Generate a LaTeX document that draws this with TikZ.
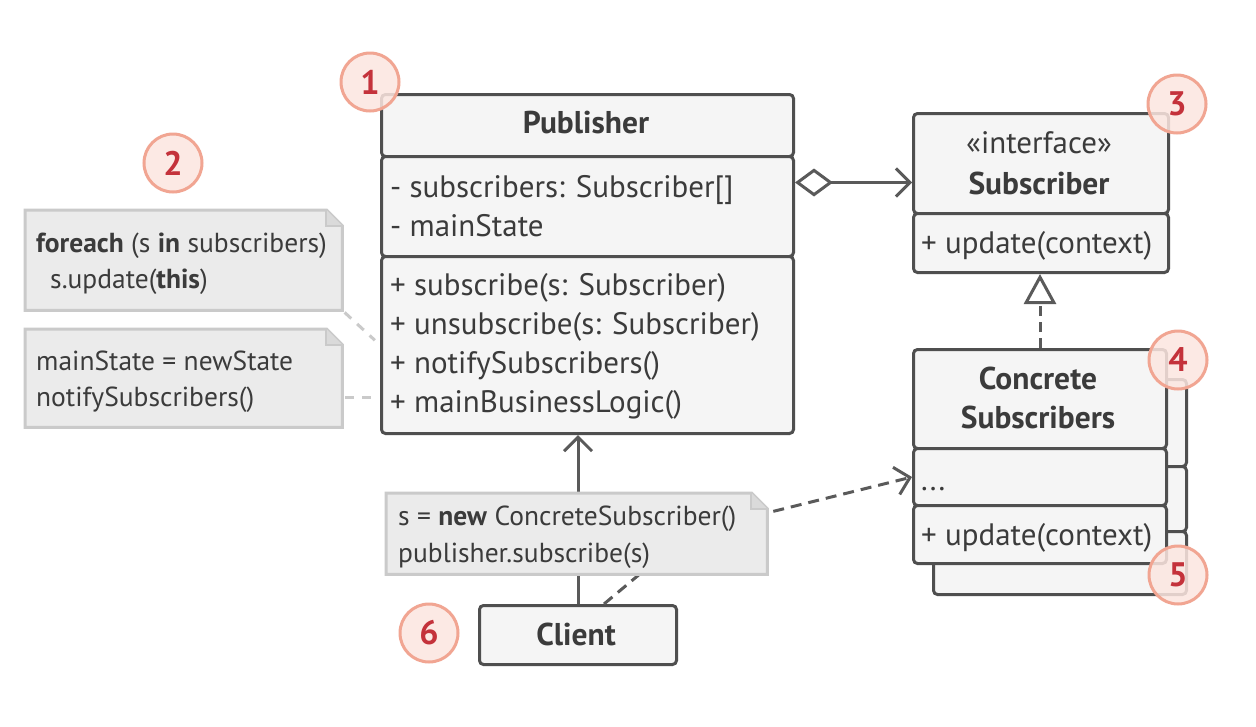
\documentclass[tikz,border=0pt]{standalone}
\usepackage{fontspec}
\setmainfont{PT Sans}
\usetikzlibrary{arrows.meta}

\definecolor{boxline}{HTML}{4F4F4F}
\definecolor{boxfill}{HTML}{F5F5F5}
\definecolor{textcol}{HTML}{3B3B3B}
\definecolor{notefill}{HTML}{EBEBEB}
\definecolor{noteline}{HTML}{CACACA}
\definecolor{badgefill}{HTML}{FCE6E0}
\definecolor{badgeline}{HTML}{F1A592}
\definecolor{badgetext}{HTML}{C4323B}
\definecolor{linkcol}{HTML}{5A5A5A}

\tikzset{
  compart/.style={draw=boxline, fill=boxfill, line width=3pt, rounded corners=4pt, inner sep=0pt, anchor=north west},
  txt/.style={inner sep=0pt, anchor=base west, text=textcol, font=\fontsize{31}{37}\selectfont},
  ctxt/.style={txt, anchor=base},
  btxt/.style={ctxt, font=\fontsize{31.5}{37}\selectfont\bfseries},
  ntxt/.style={txt, font=\fontsize{27.5}{33}\selectfont},
  notearea/.style={inner sep=0pt, anchor=north west},
  badge/.style={circle, draw=badgeline, fill=badgefill, fill opacity=0.85, text opacity=1, line width=3pt, minimum size=58pt, inner sep=0pt, text=badgetext, font=\fontsize{34}{40}\selectfont\bfseries},
  uses/.style={draw=linkcol, line width=3pt},
  notelink/.style={draw=noteline, line width=3pt, dash pattern=on 9pt off 8pt},
}

% note sheet with a folded corner
\newcommand{\notepaper}[1]{%
  \draw[fill=notefill, draw=noteline, line width=3pt, line join=miter] (#1.north west) -- ([xshift=-16pt]#1.north east) -- ([yshift=-16pt]#1.north east) -- (#1.south east) -- (#1.south west) -- cycle;
  \draw[fill=noteline!50!notefill, draw=noteline, line width=2pt, line join=miter] ([xshift=-16pt]#1.north east) -- ([xshift=-16pt,yshift=-16pt]#1.north east) -- ([yshift=-16pt]#1.north east);
}

\begin{document}
\begin{tikzpicture}[x=1pt, y=-1pt]
  \fill[white] (0,0) rectangle (1256,726);
  \useasboundingbox (0,0) rectangle (1256,726);

  % Publisher
  \node[compart, minimum width=412pt, minimum height=62pt] (pubhead) at (380,93) {};
  \node[compart, minimum width=412pt, minimum height=100pt] (pubattr) at (380,155) {};
  \node[compart, minimum width=412pt, minimum height=177pt] (pubops) at (380,255) {};
  \node[btxt] (pubname) at (586,133) {Publisher};
  \node[txt] (attr1) at (390,197) {- subscribers: Subscriber[]};
  \node[txt] (attr2) at (390,236) {- mainState};
  \node[txt] (op1) at (390,295) {+ subscribe(s: Subscriber)};
  \node[txt] (op2) at (390,334) {+ unsubscribe(s: Subscriber)};
  \node[txt] (op3) at (390,373) {+ notifySubscribers()};
  \node[txt] (op4) at (390,412) {+ mainBusinessLogic()};

  % Subscriber interface
  \node[compart, minimum width=255pt, minimum height=100pt] (subhead) at (912,112) {};
  \node[compart, minimum width=255pt, minimum height=59pt] (subops) at (912,212) {};
  \node[ctxt] (substereo) at (1039,153) {«interface»};
  \node[btxt] (subname) at (1039,194) {Subscriber};
  \node[txt] (subop) at (921,253) {+ update(context)};

  % Concrete subscribers (stacked)
  \node[compart, minimum width=253pt, minimum height=87pt] (backhead) at (932,378) {};
  \node[compart, minimum width=253pt, minimum height=65pt] (backattr) at (932,465) {};
  \node[compart, minimum width=253pt, minimum height=63pt] (backops) at (932,530) {};
  \node[compart, minimum width=253pt, minimum height=99pt] (conhead) at (912,348) {};
  \node[compart, minimum width=253pt, minimum height=57pt] (conattr) at (912,447) {};
  \node[compart, minimum width=253pt, minimum height=58pt] (conops) at (912,504) {};
  \node[btxt] (conname1) at (1038,389) {Concrete};
  \node[btxt] (conname2) at (1038,428) {Subscribers};
  \node[txt] (conattrtxt) at (921,490) {...};
  \node[txt] (conop) at (921,545) {+ update(context)};

  % Client
  \node[compart, minimum width=197pt, minimum height=59pt] (client) at (478,604) {};
  \node[btxt] (clientname) at (576,645) {Client};

  % connectors
  \draw[uses, {Diamond[open, length=38pt, width=28pt]}-{Straight Barb[length=14pt, width=28pt]}]
    ([yshift=24pt]pubattr.east) -- ([yshift=24pt]pubattr.east -| subhead.west);
  \draw[uses, dash pattern=on 10pt off 6pt, -{Triangle[fill=white, length=30pt, width=32pt]}]
    (conhead.north) -- (conhead.north |- subops.south);
  \draw[uses, -{Straight Barb[length=14pt, width=28pt]}] (client.north) -- (client.north |- pubops.south);
  \coordinate (bend) at (690,532);
  \draw[uses, dash pattern=on 11pt off 7pt, -{Straight Barb[length=14pt, width=28pt]}]
    ([xshift=26pt]client.north) -- (bend) -- (conattr.west);

  % notes
  \node[notearea, minimum width=317pt, minimum height=100pt] (note1) at (25,210) {};
  \notepaper{note1}
  \node[ntxt] (note1a) at (36,252) {\textbf{foreach} (s \textbf{in} subscribers)};
  \node[ntxt] (note1b) at (50,288) {s.update(\textbf{this})};

  \node[notearea, minimum width=317pt, minimum height=98pt] (note2) at (25,329) {};
  \notepaper{note2}
  \node[ntxt] (note2a) at (36,370) {mainState = newState};
  \node[ntxt] (note2b) at (36,406) {notifySubscribers()};

  \node[notearea, minimum width=381pt, minimum height=81pt] (note3) at (386,493) {};
  \notepaper{note3}
  \node[ntxt] (note3a) at (398,525) {s = \textbf{new} ConcreteSubscriber()};
  \node[ntxt] (note3b) at (398,562) {publisher.subscribe(s)};

  \draw[notelink, shorten <=3pt, shorten >=7pt] (note1.south east) -- (pubops.west);
  \draw[notelink, shorten <=3pt, shorten >=3pt] ([yshift=-19pt]note2.east) -- ([yshift=-19pt]note2.east -| pubops.west);

  % numbered badges
  \node[badge] (b1) at (370,82) {1};
  \node[badge] (b2) at (173,163) {2};
  \node[badge] (b3) at (1177,104) {3};
  \node[badge] (b4) at (1178,360) {4};
  \node[badge] (b5) at (1178,575) {5};
  \node[badge] (b6) at (429,633) {6};
\end{tikzpicture}
\end{document}
